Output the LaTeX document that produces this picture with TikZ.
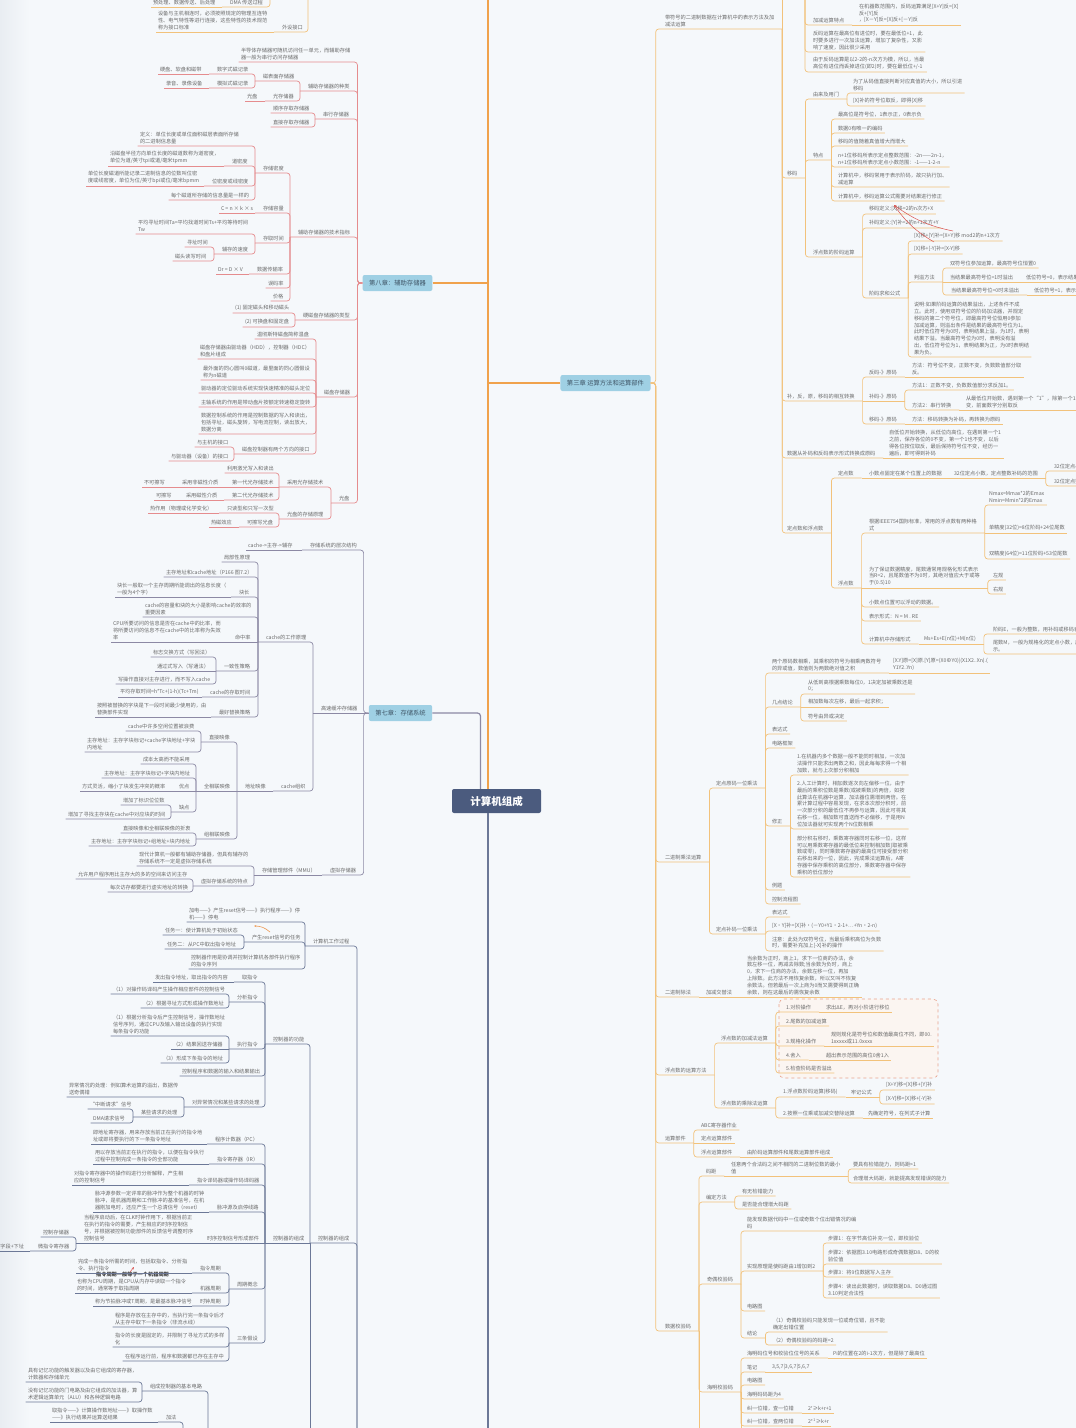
\documentclass[tikz,border=0pt]{standalone}
\usepackage{fontspec}
\setmainfont{Noto Sans CJK SC}
\usetikzlibrary{arrows.meta}
\definecolor{bg}{HTML}{F5F8FB}
\definecolor{bgedge}{HTML}{E9EDF2}
\definecolor{ink}{HTML}{6B6B6B}
\definecolor{c8}{HTML}{E58C8E}
\definecolor{c7}{HTML}{8C89A4}
\definecolor{cc}{HTML}{6C7897}
\definecolor{c3}{HTML}{F2C27B}
\definecolor{ctrunk}{HTML}{F0A24C}
\definecolor{chapfill}{HTML}{9FD0E4}
\definecolor{chapink}{HTML}{3F5566}
\definecolor{rootfill}{HTML}{4B5B7E}
\definecolor{relred}{HTML}{D9534F}
\definecolor{relorange}{HTML}{EE9A55}
\definecolor{boundline}{HTML}{E8A38E}
\definecolor{boundfill}{HTML}{FBF5F1}
\newcommand\mapfont{\fontsize{5.2}{6.8}\selectfont}
\tikzset{
  tbase/.style={anchor=south west, inner xsep=0.5pt, inner ysep=2.3pt, outer ysep=0pt,
                font=\mapfont, text=ink, align=left},
  tx/.style={tbase, outer xsep=2pt, xshift=5.5pt},
  tp/.style={tbase, outer xsep=7.5pt},
  chap/.style={fill=chapfill, rounded corners=2pt, text=chapink, inner xsep=6.5pt,
               inner ysep=0pt, minimum height=16pt, font=\fontsize{6.3}{7}\selectfont},
  rootbox/.style={fill=rootfill, rounded corners=2pt, text=white, minimum width=89pt,
                  minimum height=24pt, font=\fontsize{10.5}{12}\selectfont\bfseries},
  lk/.style={line width=0.7pt, rounded corners=3pt},
  lo/.style={lk, draw=c3}, l8/.style={lk, draw=c8}, l7/.style={lk, draw=c7},
  lc/.style={lk, draw=cc}, l3/.style={lk, draw=c3},
  trunk/.style={line width=1.5pt, draw=ctrunk},
  bound/.style={draw=boundline, fill=boundfill, dashed, rounded corners=5pt, line width=0.6pt},
  relr/.style={draw=relred, line width=0.5pt, -{Stealth[length=2.5pt,width=2pt]}},
  relo/.style={draw=relorange, line width=0.6pt, -{Stealth[length=2.5pt,width=2pt]}},
  rellab/.style={font=\mapfont\bfseries, text=black!75, inner sep=0.5pt}
}
\begin{document}
\begin{tikzpicture}[x=1pt,y=-1pt]
\useasboundingbox (0,0) rectangle (1076,1428);
\clip (0,0) rectangle (1076,1428);
\fill[bg] (0,0) rectangle (1076,1428);
\shade[left color=bgedge, right color=bg] (0,0) rectangle (30,1428);
\draw[bound] (779,999) rectangle (938,1078);

% cut-off branch at the top
\coordinate (ioA) at (270,0);
\coordinate (ioB) at (308,0);
\node[tp] (dma) at (222,7) {DMA 传送过程};
\node[tx] (dmastep) at (145,7) {预处理、数据传送、后处理};
\node[tp] (port) at (274,32) {外设接口};
\node[tx] (portdef) at (150,32) {设备与主机相连时，必须按照规定的物理互连特\\性、电气特性等进行连接，这些特性的技术规范\\称为接口标准};

% chapter 8
\node[chap] (ch8) at (397.5,283) {第八章：辅助存储器};
\coordinate (ch8j) at ([xshift=-5pt]ch8.west);
\node[tx] (semi) at (233,62) {半导体存储器可随机访问任一单元，而辅助存储\\器一般为串行访问存储器};
\node[tp] (kind) at (300,91) {辅助存储器的种类};
\node[tp] (magsurf) at (255,81) {磁表面存储器};
\node[tp] (dmedia) at (209,74) {数字式磁记录};
\node[tx] (harddisk) at (152,74) {硬盘、软盘和磁带};
\node[tp] (amedia) at (209,88) {模拟式磁记录};
\node[tx] (tape) at (158,88) {录音、录像设备};
\node[tp] (optmem) at (265,101) {光存储器};
\node[tx] (cd) at (239,101) {光盘};
\node[tp] (serial) at (315,119) {串行存储器};
\node[tx] (seqacc) at (265,113) {顺序存取存储器};
\node[tx] (diracc) at (265,127) {直接存取存储器};
\node[tp] (tech) at (290,237) {辅助存储器的技术指标};
\node[tp] (density) at (255,173) {存储密度};
\node[tx] (dendef) at (132,146) {定义：单位长度或单位面积磁层表面所存储\\的二进制信息量};
\node[tp] (track) at (224,166) {道密度};
\node[tx] (trackdef) at (102,166) {沿磁盘半径方向单位长度的磁道数称为道密度，\\单位为道/英寸tpi或道/毫米tpmm};
\node[tp] (bitd) at (204,186) {位密度或线密度};
\node[tx] (bitdef) at (80,186) {单位长度磁道所能记录二进制信息的位数叫位密\\度或线密度，单位为位/英寸bpi或位/毫米bpmm};
\node[tx] (same) at (163,200) {每个磁道所存储的信息量是一样的};
\node[tp] (cap) at (255,213) {存储容量};
\node[tx] (capf) at (213,213) {C = n × k × s};
\node[tp] (acc) at (255,243) {存取时间};
\node[tx] (avgt) at (130,234) {平均寻址时间Ta=平均找道时间Ts+平均等待时间\\Tw};
\node[tp] (speed) at (214,254) {辅存的速度};
\node[tx] (seek) at (179,247) {寻址时间};
\node[tx] (rw) at (167,261) {磁头读写时间};
\node[tp] (rate) at (249,274) {数据传输率};
\node[tx] (ratef) at (210,274) {Dr = D × V};
\node[tx] (err) at (260,288) {误码率};
\node[tx] (price) at (265,301) {价格};
\node[tp] (hdtype) at (295,320) {硬磁盘存储器的类型};
\node[tx] (hd1) at (227,313) {(1) 固定磁头和移动磁头};
\node[tx] (hd2) at (237,327) {(2) 可换盘和固定盘};
\node[tp] (disk) at (316,397) {磁盘存储器};
\node[tx] (win) at (249,339) {温彻斯特磁盘简称温盘};
\node[tx] (dcomp) at (192,359) {磁盘存储器由驱动器（HDD），控制器（HDC）\\和盘片组成};
\node[tx] (track0) at (195,380) {最外面的同心圆叫0磁道，最里面的同心圆假设\\称为n磁道};
\node[tx] (drive) at (193,393) {驱动器的定位驱动系统实现快速精准的磁头定位};
\node[tx] (spindle) at (193,407) {主轴系统的作用是带动盘片按额定转速稳定旋转};
\node[tx] (dctrl) at (193,434) {数据控制系统的作用是控制数据的写入和读出，\\包括寻址，磁头旋转，写电流控制，读出放大，\\数据分离};
\node[tp] (iface) at (234,454) {磁盘控制器有两个方向的接口};
\node[tx] (host) at (189,447) {与主机的接口};
\node[tx] (dev) at (163,461) {与驱动器（设备）的接口};
\node[tp] (optic) at (331,503) {光盘};
\node[tp] (optech) at (279,487) {采用光存储技术};
\node[tx] (laser) at (219,473) {利用激光写入和读出};
\node[tp] (gen1) at (224,487) {第一代光存储技术};
\node[tp] (nonmag) at (174,487) {采用非磁性介质};
\node[tx] (noerase) at (136,487) {不可擦写};
\node[tp] (gen2) at (224,500) {第二代光存储技术};
\node[tp] (magm) at (178,500) {采用磁性介质};
\node[tx] (erase) at (148,500) {可擦写};
\node[tp] (opprin) at (279,519) {光盘的存储原理};
\node[tp] (rom) at (219,513) {只读型和只写一次型};
\node[tx] (heat) at (142,513) {热作用（物理或化学变化）};
\node[tp] (rw2) at (239,527) {可擦写光盘};
\node[tx] (thermo) at (203,527) {热磁效应};

% chapter 7
\node[chap] (ch7) at (400.5,713) {第七章：存储系统};
\coordinate (ch7j) at ([xshift=-5pt]ch7.west);
\node[tp] (hier) at (302,550) {存储系统的层次结构};
\node[tx] (hierc) at (240,550) {cache->主存->辅存};
\node[tp] (cachemem) at (313,713) {高速缓冲存储器};
\node[tp] (cwork) at (258,642) {cache的工作原理};
\node[tx] (local) at (216,562) {局部性原理};
\node[tx] (addr) at (158,577) {主存地址和cache地址（P166 图7.2）};
\node[tp] (blk) at (231,597) {块长};
\node[tx] (blkdef) at (109,597) {块长一般取一个主存周期所能调出的信息长度（\\一般为4个字）};
\node[tx] (cap7) at (137,617) {cache的容量和块的大小是影响cache的效率的\\重要因素};
\node[tp] (hit) at (227,642) {命中率};
\node[tx] (hitdef) at (105,642) {CPU所要访问的信息是否在cache中的比率，而\\将所要访问的信息不在cache中的比率称为失效\\率};
\node[tp] (cons) at (216,671) {一致性策略};
\node[tx] (wb) at (145,657) {标志交换方式（写回法）};
\node[tx] (wt) at (149,671) {通过式写入（写通法）};
\node[tx] (wdir) at (110,684) {写操作直接对主存进行，而不写入cache};
\node[tp] (ctime) at (202,697) {cache的存取时间};
\node[tx] (ctimef) at (112,697) {平均存取时间=h*Tc+(1-h)(Tc+Tm)};
\node[tp] (repl) at (211,717) {最好替换策略};
\node[tx] (repldef) at (89,717) {按照被替换的字块是下一段时间最少使用的，由\\替换部件实现};
\node[tp] (corg) at (273,791) {cache组织};
\node[tp] (map) at (237,791) {地址映像};
\node[tp] (direct) at (201,742) {直接映像};
\node[tx] (waste) at (120,731) {cache中许多空闲位置被浪费};
\node[tx] (daddr) at (79,752) {主存地址：主存字块标记+cache字块地址+字块\\内地址};
\node[tp] (full) at (196,791) {全相联映像};
\node[tx] (cost) at (135,764) {成本太高而不能采用};
\node[tx] (faddr) at (96,778) {主存地址：主存字块标记+字块内地址};
\node[tp] (pro) at (171,791) {优点};
\node[tx] (prodef) at (74,791) {方式灵活，缩小了块发生冲突的概率};
\node[tp] (con) at (171,812) {缺点};
\node[tx] (bits) at (115,805) {增加了标识位位数};
\node[tx] (search) at (60,819) {增加了寻找主存块在cache中对应块的时间};
\node[tp] (set) at (196,839) {组相联映像};
\node[tx] (tradeoff) at (115,833) {直接映像和全相联映像的折衷};
\node[tx] (saddr) at (83,846) {主存地址：主存字块标记+组地址+块内地址};
\node[tp] (virt) at (322,875) {虚拟存储器};
\node[tp] (mmu) at (254,875) {存储管理部件（MMU）};
\node[tx] (vmnote) at (131,866) {现代计算机一般都有辅助存储器，但具有辅存的\\存储系统不一定是虚拟存储系统};
\node[tp] (vmfeat) at (193,886) {虚拟存储系统的特点};
\node[tx] (vm1) at (70,879) {允许用户程序用比主存大的多的空间来访问主存};
\node[tx] (vm2) at (102,892) {每次访存都要进行虚实地址的转换};

% controller branch, its chapter lies below the picture
\coordinate (ctlA) at (357,1428);
\coordinate (ctlB) at (208,1428);
\coordinate (ctlC) at (183,1428);
\coordinate (ctlD) at (310,1428);
\node[tp] (work) at (305,946) {计算机工作过程};
\node[tx] (power) at (181,922) {加电——》产生reset信号——》执行程序——》停\\机——》停电};
\node[tp] (reset) at (244,942) {产生reset信号的任务};
\node[tx] (task1) at (157,935) {任务一：使计算机处于初始状态};
\node[tx] (task2) at (159,949) {任务二：从PC中取出指令地址};
\node[tx] (role) at (183,969) {控制器作用是协调并控制计算机各部件执行程序\\的指令序列};
\node[tp] (ctlouter) at (310,1243) {控制器的组成};
\node[tp] (func) at (265,1044) {控制器的功能};
\node[tp] (fetch) at (234,982) {取指令};
\node[tx] (fetchd) at (147,982) {发出指令地址，取出指令的内容};
\node[tp] (decode) at (229,1002) {分析指令};
\node[tx] (dec1) at (105,994) {（1）对操作码译码产生操作相应部件的控制信号};
\node[tx] (dec2) at (135,1008) {（2）根据寻址方式形成操作数地址};
\node[tp] (exec) at (229,1049) {执行指令};
\node[tx] (ex1) at (105,1036) {（1）根据分析指令后产生控制信号，操作数地址\\信号序列，通过CPU及输入输出设备的执行实现\\每条指令的功能};
\node[tx] (ex2) at (165,1049) {（2）结果回送存储器};
\node[tx] (ex3) at (155,1063) {（3）形成下条指令的地址};
\node[tx] (io) at (174,1076) {控制程序和数据的输入和结果输出};
\node[tp] (exc) at (184,1107) {对异常情况和某些请求的处理};
\node[tx] (excd) at (61,1097) {异常情况的处理：例如算术运算的溢出，数据传\\送奇偶错};
\node[tp] (req) at (133,1117) {某些请求的处理};
\node[tx] (irq) at (82,1109) {“中断请求”信号};
\node[tx] (dma2) at (85,1123) {DMA请求信号};
\node[tp] (ctlinner) at (265,1243) {控制器的组成};
\node[tp] (pc) at (207,1144) {程序计数器（PC）};
\node[tx] (pcd) at (85,1144) {即地址寄存器，用来存放当前正在执行的指令地\\址或即将要执行的下一条指令地址};
\node[tp] (ir) at (209,1164) {指令寄存器（IR）};
\node[tx] (ird) at (87,1164) {用以存放当前正在执行的指令，以便在指令执行\\过程中控制完成一条指令的全部功能};
\node[tp] (idec) at (189,1185) {指令译码器或操作码译码器};
\node[tx] (idecd) at (66,1185) {对指令寄存器中的操作码进行分析解释，产生相\\应的控制信号};
\node[tp] (clk) at (209,1212) {脉冲源及启停线路};
\node[tx] (clkd) at (87,1212) {脉冲源参数一定评率的脉冲作为整个机器的时钟\\脉冲，是机器周期和工作脉冲的基准信号，在机\\器刚加电时，还应产生一个总清信号（reset）};
\node[tp] (timing) at (199,1243) {时序控制信号形成部件};
\node[tp] (timingd) at (76,1243) {当程序启动后，在CLK时钟作用下，根据当前正\\在执行的指令的需要，产生相应的时序控制信\\号，并根据被控制功能部件的反馈信号调整时序\\控制信号};
\node[tx] (cstore) at (35,1237) {控制存储器};
\node[tp] (mir) at (30,1251) {微指令寄存器};
\node[tx] (mirfmt) at (-18,1251) {控制字段+下址};
\node[tp] (cycle) at (229,1289) {周期概念};
\node[tp] (icyc) at (192,1273) {指令周期};
\node[tx] (icycd) at (70,1273) {完成一条指令所需的时间，包括取指令、分析指\\令、执行指令};
\node[tp] (mcyc) at (192,1293) {机器周期};
\node[tx] (mcycd) at (69,1293) {也称为CPU周期，是CPU从内存中读取一个指令\\的时间，通常等于取指周期};
\node[tp] (tcyc) at (192,1306) {时钟周期};
\node[tx] (tcycd) at (87,1306) {称为节拍脉冲或T周期，是最基本脉冲信号};
\node[rellab] (cyclab) at (132.5,1274) {指令周期一般等于一个机器周期};
\node[tp] (assume) at (229,1343) {三条假设};
\node[tx] (as1) at (107,1327) {程序是存放在主存中的，当执行完一条指令后才\\从主存中取下一条指令（非流水线）};
\node[tx] (as2) at (107,1347) {指令的长度是固定的，并限制了寻址方式的多样\\化};
\node[tx] (as3) at (117,1361) {在程序运行前，程序和数据都已存在主存中};
\node[tp] (basic) at (142,1391) {组成控制器的基本电路};
\node[tx] (mem) at (20,1382) {具有记忆功能的触发器以及由它组成的寄存器，\\计数器和存储单元};
\node[tx] (logic) at (20,1402) {没有记忆功能的门电路及由它组成的加法器，算\\术逻辑运算单元（ALU）和各种逻辑电路};
\node[tp] (add) at (158,1422) {加法};
\node[tx] (addd) at (44,1422) {取指令——》计算操作数地址——》取操作数\\——》执行结果并运算送结果};

% chapter 3
\node[chap] (ch3) at (605.5,383) {第三章 运算方法和运算部件};
\coordinate (ch3j) at ([xshift=5pt]ch3.east);
\coordinate (invtop) at (805,0);
\node[tp] (sign) at (657,29) {带符号的二进制数据在计算机中的表示方法及加\\减法运算};
\node[tp] (addsub) at (805,25) {加减运算特点};
\node[tx] (addsubd) at (851,25) {在机器数范围内，反码运算满足[X+Y]反=[X]\\反+[Y]反\\，[X－Y]反=[X]反+[－Y]反};
\node[tx] (inv1) at (805,52) {反码运算在最高位有进位时，要在最低位+1，此\\时要多进行一次加法运算，增加了复杂性，又影\\响了速度，因此很少采用};
\node[tx] (inv2) at (805,72) {由于反码运算是以2-2的-n次方为模，所以，当最\\高位有进位而丢掉进位(即2)时，要在最低位+/-1};
\node[tp] (bias) at (779,178) {移码};
\node[tp] (origin) at (805,99) {由来及用门};
\node[tx] (why) at (845,93) {为了从码值直接判断对应真值的大小，所以引进\\移码};
\node[tx] (how) at (845,106) {[X]补的符号位取反，即得[X]移};
\node[tp] (feat) at (805,160) {特点};
\node[tx] (f1) at (830,119) {最高位是符号位，1表示正，0表示负};
\node[tx] (f2) at (830,133) {数据0有唯一的编码};
\node[tx] (f3) at (830,146) {移码的值随着真值增大而增大};
\node[tx] (f4) at (830,167) {n+1位移码所表示定点整数范围：-2n——2n-1，\\n+1位移码所表示定点小数范围：-1——1-2-n};
\node[tx] (f5) at (830,187) {计算机中，移码常用于表示阶码，故只执行加、\\减运算};
\node[tx] (f6) at (830,201) {计算机中，移码运算公式需要对结果进行修正};
\node[tp] (expo) at (805,257) {浮点数的阶码运算};
\node[tx] (bdef) at (861,214) {移码定义:[X]移=2的n次方+X};
\node[tx] (cdef) at (861,228) {补码定义:[Y]补=2的n+1次方+Y};
\node[tp] (sumf) at (861,298) {阶码求和公式};
\node[tx] (s1) at (906,241) {[X]移+[Y]补=[X+Y]移 mod2的n+1次方};
\node[tx] (s2) at (906,254) {[X]移+[-Y]补=[X-Y]移};
\node[tp] (ovf) at (906,282) {判溢方法};
\node[tx] (o1) at (942,268) {双符号位参加运算，最高符号位恒置0};
\node[tp] (o2) at (942,282) {当结果最高符号位=1时溢出};
\node[tx] (o2d) at (1018,282) {低位符号=0，表示结果上溢};
\node[tp] (o3) at (943,295) {当结果最高符号位=0时未溢出};
\node[tx] (o3d) at (1026,295) {低位符号=1，表示结果为负};
\node[tx] (note) at (906,357) {说明:如果阶码运算的结果溢出，上述条件不成\\立。此时，使用双符号位的阶码加法器，并规定\\移码的第二个符号位，即最高符号位恒用0参加\\加减运算，则溢出条件是结果的最高符号位为1。\\此时低位符号为0时，表明结果上溢，为1时，表明\\结果下溢。当最高符号位为0时，表明没有溢\\出，低位符号位为1，表明结果为正，为0时表明结\\果为负。};
\node[tp] (conv) at (779,401) {补，反，原，移码的相互转换};
\node[tp] (inv2orig) at (861,377) {反码-》原码};
\node[tx] (inv2origd) at (904,377) {方法：符号位不变，正数不变，负数数值部分取\\反。};
\node[tp] (comp2orig) at (861,401) {补码-》原码};
\node[tx] (m1) at (904,390) {方法1：正数不变，负数数值部分求反加1。};
\node[tp] (m2) at (904,410) {方法2：串行转换};
\node[tx] (m2d) at (958,410) {从最低位开始数，遇到第一个“1”，除第一个1不\\变，前面数字分别取反};
\node[tp] (bias2orig) at (861,424) {移码-》原码};
\node[tx] (bias2origd) at (904,424) {方法：移码转换为补码，再转换为原码};
\node[tp] (tosign) at (779,458) {数据从补码和反码表示形式转换成原码};
\node[tx] (tosignd) at (881,458) {自低位开始转换，从低位向高位，在遇到第一个1\\之前，保存各位的0不变，第一个1也不变，以后\\得各位按位取反，最后保持符号位不变，经历一\\遍后，即可得到补码};
\node[tp] (fixfl) at (779,533) {定点数和浮点数};
\node[tp] (fixed) at (830,478) {定点数};
\node[tp] (fixedd) at (861,478) {小数点固定在某个位置上的数据};
\node[tp] (range) at (946,478) {32位定点小数，定点整数补码的范围};
\node[tx] (rng1) at (1046,471) {32位定点小数：-1～1-2的-31次方};
\node[tx] (rng2) at (1046,486) {32位定点整数：-2的31次方～2的31次方-1};
\node[tp] (float) at (830,588) {浮点数};
\node[tp] (ieee) at (861,533) {根据IEEE754国际标准，常用的浮点数有两种格\\式};
\node[tx] (nmax) at (981,505) {Nmax=Mmax*2的Emax\\Nmin=Mmin*2的Emax};
\node[tx] (single) at (981,533) {单精度(32位)=8位阶码+24位尾数};
\node[tx] (double) at (981,559) {双精度(64位)=11位阶码+53位尾数};
\node[tp] (norm) at (861,588) {为了保证数据精度，尾数通常用规格化形式表示\\当R=2，且尾数值不为0时，其绝对值应大于或等\\于(0.5)10};
\node[tx] (lnorm) at (985,580) {左规};
\node[tx] (rnorm) at (985,594) {右规};
\node[tx] (movable) at (861,607) {小数点位置可以浮动的数据。};
\node[tx] (form) at (861,621) {表示形式：N = M . RE};
\node[tp] (store) at (861,644) {计算机中存储形式};
\node[tp] (stored) at (916,644) {Ms+Es+E(n位)+M(n位)};
\node[tx] (expE) at (985,634) {阶码E，一般为整数，用补码或移码表示};
\node[tx] (mant) at (985,654) {尾数M，一般为规格化的定点小数，用补码表\\示。};
\node[tp] (mul) at (657,862) {二进制乘法运算};
\node[tp] (orig1) at (708,788) {定点原码一位乘法};
\node[tp] (rule) at (764,673) {两个原码数相乘，其乘积的符号为相乘两数符号\\的异或值，数值则为两数绝对值之积};
\node[tx] (ruled) at (885,673) {[X.Y]原=[X]原.[Y]原=(X0⊕Y0)|(X1X2..Xn).(\\Y1Y2..Yn)};
\node[tp] (concl) at (764,707) {几点结论};
\node[tx] (c1) at (800,694) {从低到高根据乘数每位0，1决定加被乘数还是\\0；};
\node[tx] (c2) at (800,707) {相加数每次左移，最后一起求积；};
\node[tx] (c3) at (800,721) {符号由异或决定};
\node[tx] (expr) at (764,734) {表达式};
\node[tx] (frame) at (764,748) {电路框架};
\node[tp] (fix) at (764,826) {修正};
\node[tx] (fx1) at (789,775) {1.在机器内多个数据一般不能同时相加，一次加\\法操作只能求出两数之和，因此每每求得一个相\\加数，就与上次部分积相加};
\node[tx] (fx2) at (789,829) {2.人工计算时，相加数逐次向左偏移一位，由于\\最后的乘积位数是乘数(或被乘数)的两倍，如按\\此算法在机器中运算，加法器位需增到两倍。在\\累计算过程中容易发现，在求本次部分积时，前\\一次部分积的最低位不再参与运算，因此可将其\\右移一位，相加数可直送而不必偏移，于是用N\\位加法器就可实现两个N位数相乘};
\node[tx] (fx3) at (789,877) {部分积右移时，乘数寄存器同时右移一位，这样\\可以用乘数寄存器的最低位来控制相加数(取被乘\\数或零)，同时乘数寄存器的最高位可接受部分积\\右移出来的一位，因此，完成乘法运算后，A寄\\存器中保存乘积的高位部分，乘数寄存器中保存\\乘积的低位部分};
\node[tx] (example) at (764,890) {例题};
\node[tx] (flow) at (764,904) {控制流程图};
\node[tp] (comp1) at (708,934) {定点补码一位乘法};
\node[tx] (expr2) at (764,917) {表达式};
\node[tx] (cexpr) at (764,931) {[X·Y]补=[X]补·(－Y0+Y1·2-1+…+Yn·2-n)};
\node[tx] (attn) at (764,951) {注意：此处为双符号位，当最后乘积高位为负数\\时，需要补充加上[-X]补的操作};
\node[tp] (div) at (657,997) {二进制除法};
\node[tp] (alt) at (698,997) {加减交替法};
\node[tx] (altd) at (739,997) {当余数为正时，商上1，求下一位商的办法，余\\数左移一位，再减去除数;当余数为负时，商上\\0，求下一位商的办法，余数左移一位，再加\\上除数。此方法不用恢复余数，所以又叫不恢复\\余数法。但若最后一次上商为0而又需要得到正确\\余数，则在这最后的需恢复余数};
\node[tp] (fpop) at (657,1075) {浮点数的运算方法};
\node[tp] (fpadd) at (713,1043) {浮点数的加减法运算};
\node[tp] (a1) at (778,1012) {1.对阶操作};
\node[tx] (a1d) at (818,1012) {求出ΔE，再对小阶进行移位};
\node[tx] (a2) at (778,1026) {2.尾数的加减运算};
\node[tp] (a3) at (778,1046) {3.规格化操作};
\node[tx] (a3d) at (823,1046) {规则规化是符号位和数值最高位不同，即00.\\1xxxxx或11.0xxxx};
\node[tp] (a4) at (778,1060) {4.舍入};
\node[tx] (a4d) at (818,1060) {超出表示范围的高位0舍1入};
\node[tx] (a5) at (778,1073) {5.检查阶码是否溢出};
\node[tp] (fpmul) at (713,1108) {浮点数的乘除法运算};
\node[tp] (m1e) at (775,1097) {1.浮点数阶码运算(移码)};
\node[tp] (rem) at (843,1097) {牢记公式};
\node[tx] (r1) at (878,1090) {[X+Y]移=[X]移+[Y]补};
\node[tx] (r2) at (878,1104) {[X-Y]移=[X]移+[-Y]补};
\node[tp] (m2e) at (775,1118) {2.按照一位乘或加减交替除运算};
\node[tx] (m2ed) at (860,1118) {先确定符号，在列式子计算};
\node[tp] (alu) at (657,1143) {运算部件};
\node[tx] (abc) at (693,1130) {ABC寄存器作业};
\node[tx] (fixu) at (693,1143) {定点运算部件};
\node[tp] (flu) at (693,1157) {浮点运算部件};
\node[tx] (flud) at (739,1157) {由阶码运算部件和尾数运算部件组成};
\node[tp] (check) at (657,1331) {数据校验码};
\node[tp] (dist) at (698,1176) {码距};
\node[tp] (distd) at (723,1176) {任意两个合法码之间不相同的二进制位数的最小\\值};
\node[tx] (d1) at (845,1169) {要具有检错能力，则码距>1};
\node[tx] (d2) at (845,1183) {合理增大码距，就能提高发现错误的能力};
\node[tp] (meth) at (698,1202) {编定方法};
\node[tx] (me1) at (734,1196) {有无检错能力};
\node[tx] (me2) at (734,1209) {是否能合理增大码距};
\node[tp] (parity) at (699,1284) {奇偶校验码};
\node[tx] (p1) at (739,1231) {能发现数据代码中一位或奇数个位出错情况的编\\码};
\node[tp] (p2) at (739,1271) {实现原理是使码距由1增加到2};
\node[tx] (st1) at (820,1243) {步骤1：在字节高位补充一位，即校验位};
\node[tx] (st2) at (820,1264) {步骤2：依据图3.10电路形成奇偶数据D8、D的校\\验位值};
\node[tx] (st3) at (820,1277) {步骤3：将9位数据写入主存};
\node[tx] (st4) at (820,1298) {步骤4：读出此数据时，读取数据D8、D0通过图\\3.10判定合法性};
\node[tx] (p3) at (739,1311) {电路图};
\node[tp] (p4) at (739,1338) {结论};
\node[tx] (pc1) at (765,1332) {（1）奇偶校验码只能发现一位或奇位错，且不能\\确定出错位置};
\node[tx] (pc2) at (765,1345) {（2）奇偶校验码的码距=2};
\node[tp] (ham) at (699,1392) {海明校验码};
\node[tp] (h1) at (739,1358) {海明码位号和校验位位号的关系};
\node[tx] (h1d) at (825,1358) {Pi的位置在2的i-1次方，但是除了最高位};
\node[tp] (h2) at (739,1372) {笔记};
\node[tx] (h2d) at (764,1372) {3,5,7|3,6,7|5,6,7};
\node[tx] (h3) at (739,1385) {电路图};
\node[tx] (h4) at (739,1399) {海明码码距为4};
\node[tp] (h5) at (739,1413) {纠一位错，查一位错};
\node[tx] (h5d) at (800,1413) {2\textsuperscript{r}≥k+r+1};
\node[tp] (h6) at (739,1426) {纠一位错，查两位错};
\node[tx] (h6d) at (800,1426) {2\textsuperscript{r-1}≥k+r};

% root and trunk
\node[rootbox] (root) at (496.5,801) {计算机组成};
\coordinate (trunktop) at (488,0);
\coordinate (trunkbot) at (488,1428);
\draw[trunk] (trunktop) -- (trunktop |- root.north);
\draw[trunk] (ch8.east) -- (ch8.east -| trunktop);
\draw[trunk] (ch3.west) -- (ch3.west -| trunktop);
\draw[lk, draw=c7, line width=1.2pt] (ch7.east) -| ([xshift=-16pt]root.north);
\draw[lk, draw=cc, line width=1.5pt] (trunkbot |- root.south) -- (trunkbot);

% connectors
\draw[lo] (ioA) |- (dma.south west);
\draw[lo] (ioB) |- (port.south west);
\foreach \p/\c in {dma/dmastep, port/portdef}
  \draw[lo] (\p.south west) -- (\c.south west);

\foreach \c in {semi, kind, serial, tech, hdtype, disk, optic}
  \draw[l8] (ch8.west) -- (ch8j) |- (\c.south west);
\foreach \p/\c in {kind/magsurf, kind/optmem, magsurf/dmedia, magsurf/amedia, serial/seqacc,
    serial/diracc, tech/density, tech/cap, tech/acc, tech/rate, tech/err, tech/price,
    density/dendef, density/track, density/bitd, density/same, acc/avgt, acc/speed,
    speed/seek, speed/rw, hdtype/hd1, hdtype/hd2, disk/win, disk/dcomp, disk/track0,
    disk/drive, disk/spindle, disk/dctrl, disk/iface, iface/host, iface/dev,
    optic/optech, optic/opprin, optech/laser, optech/gen2, opprin/rom, opprin/rw2}
  \draw[l8] (\p.south west) |- (\c.south west);
\foreach \p/\c in {dmedia/harddisk, amedia/tape, optmem/cd, track/trackdef, bitd/bitdef,
    cap/capf, rate/ratef, optech/gen1, gen1/nonmag, nonmag/noerase, gen2/magm,
    magm/erase, rom/heat, rw2/thermo}
  \draw[l8] (\p.south west) -- (\c.south west);

\foreach \c in {hier, virt}
  \draw[l7] (ch7.west) -- (ch7j) |- (\c.south west);
\draw[l7] (ch7.west) -- (cachemem.south west);
\foreach \p/\c in {cachemem/cwork, cachemem/corg, cwork/local, cwork/addr, cwork/blk,
    cwork/cap7, cwork/cons, cwork/ctime, cwork/repl, cons/wb, cons/wdir, map/direct,
    map/set, direct/waste, direct/daddr, full/cost, full/faddr, full/con, con/bits,
    con/search, set/tradeoff, set/saddr, mmu/vmnote, mmu/vmfeat, vmfeat/vm1, vmfeat/vm2}
  \draw[l7] (\p.south west) |- (\c.south west);
\foreach \p/\c in {hier/hierc, cwork/hit, hit/hitdef, blk/blkdef, cons/wt, ctime/ctimef,
    repl/repldef, corg/map, map/full, full/pro, pro/prodef, virt/mmu}
  \draw[l7] (\p.south west) -- (\c.south west);

\draw[lc] (ctlA) |- (work.south west);
\draw[lc] (ctlA) |- (ctlouter.south west);
\draw[lc] (ctlouter.south west) -- (ctlD);
\draw[lc] (ctlB) |- (basic.south west);
\draw[lc] (ctlC) |- (add.south west);
\foreach \p/\c in {work/power, work/reset, work/role, reset/task1, reset/task2,
    ctlouter/func, func/fetch, func/decode, func/exec, func/io, func/exc, decode/dec1,
    decode/dec2, exec/ex1, exec/ex3, exc/excd, exc/req, req/irq, req/dma2, ctlinner/pc,
    ctlinner/ir, ctlinner/idec, ctlinner/clk, ctlinner/cycle, ctlinner/assume,
    timingd/cstore, timingd/mir, cycle/icyc, cycle/mcyc, cycle/tcyc, assume/as1,
    assume/as2, assume/as3, basic/mem, basic/logic}
  \draw[lc] (\p.south west) |- (\c.south west);
\foreach \p/\c in {fetch/fetchd, exec/ex2, ctlouter/ctlinner, ctlinner/timing,
    timing/timingd, pc/pcd, ir/ird, idec/idecd, clk/clkd, mir/mirfmt, icyc/icycd,
    mcyc/mcycd, tcyc/tcycd, add/addd}
  \draw[lc] (\p.south west) -- (\c.south west);

\foreach \c in {sign, mul, div, fpop, alu, check}
  \draw[l3] (ch3.east) -- (ch3j) |- (\c.south east);
\draw[l3] (sign.south east) -- (sign.south east |- trunktop);
\draw[l3] (check.south east) -- (check.south east |- trunkbot);
\draw[l3] (ham.south east) -- (ham.south east |- trunkbot);
\foreach \c in {addsub, inv1, inv2}
  \draw[l3] (invtop) |- (\c.south east);
\foreach \p/\c in {sign/bias, sign/conv, sign/tosign, sign/fixfl, bias/origin, bias/feat,
    bias/expo, origin/why, origin/how, feat/f1, feat/f2, feat/f3, feat/f4, feat/f5,
    feat/f6, expo/bdef, expo/cdef, expo/sumf, sumf/s1, sumf/s2, sumf/ovf, sumf/note,
    ovf/o1, ovf/o3, conv/inv2orig, conv/bias2orig, comp2orig/m1, comp2orig/m2,
    fixfl/fixed, fixfl/float, float/ieee, float/movable, float/form, float/store,
    ieee/nmax, ieee/double, norm/lnorm, norm/rnorm, stored/expE, stored/mant,
    range/rng1, range/rng2, mul/orig1, mul/comp1, orig1/rule, orig1/concl, orig1/expr,
    orig1/frame, orig1/fix, orig1/example, orig1/flow, concl/c1, concl/c3, fix/fx1,
    fix/fx2, fix/fx3, comp1/expr2, comp1/cexpr, comp1/attn, fpop/fpadd, fpop/fpmul,
    fpadd/a1, fpadd/a2, fpadd/a3, fpadd/a4, fpadd/a5, fpmul/m1e, fpmul/m2e, rem/r1,
    rem/r2, alu/abc, alu/flu, check/dist, check/meth, check/parity, check/ham,
    distd/d1, distd/d2, meth/me1, meth/me2, parity/p1, parity/p2, parity/p3, parity/p4,
    p2/st1, p2/st2, p2/st3, p2/st4, p4/pc1, p4/pc2, ham/h1, ham/h2, ham/h3, ham/h4,
    ham/h5, ham/h6}
  \draw[l3] (\p.south east) |- (\c.south east);
\foreach \p/\c in {addsub/addsubd, ovf/o2, o2/o2d, o3/o3d, inv2orig/inv2origd,
    conv/comp2orig, m2/m2d, bias2orig/bias2origd, tosign/tosignd, fixed/fixedd,
    fixedd/range, ieee/single, float/norm, store/stored, rule/ruled, concl/c2, div/alt,
    alt/altd, a1/a1d, a3/a3d, a4/a4d, m1e/rem, m2e/m2ed, alu/fixu, flu/flud, dist/distd,
    h1/h1d, h2/h2d, h5/h5d, h6/h6d}
  \draw[l3] (\p.south east) -- (\c.south east);

% relation arrows
\coordinate (rela) at (270,932);
\coordinate (relb) at (254,926);
\draw[relo] (rela) to[bend right=20] (relb);
\coordinate (relt) at (894,205);
\coordinate (relc) at (953,231);
\coordinate (reld) at (934,242);
\draw[relr] (relc) to[bend left=12] (relt);
\draw[relr] (reld) to[bend left=12] (relt);
\coordinate (relm) at (130,1272);
\coordinate (reln) at (134,1267);
\draw[relr] (relm) -- (reln);
\end{tikzpicture}
\end{document}
